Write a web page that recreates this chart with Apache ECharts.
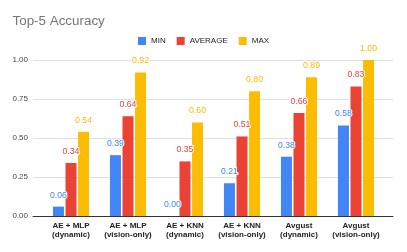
<!DOCTYPE html>
<html><head><meta charset="utf-8">
<script src="https://cdn.jsdelivr.net/npm/echarts@6/dist/echarts.min.js"></script>
<style>html,body{margin:0;padding:0;background:#fff}#c{width:407px;height:252px}</style>
</head><body><div id="c"></div>
<script>
const categories = ['AE + MLP\n(dynamic)','AE + MLP\n(vision-only)','AE + KNN\n(dynamic)','AE + KNN\n(vision-only)','Avgust\n(dynamic)','Avgust\n(vision-only)'];
const minValues = [0.06, 0.39, 0.00, 0.21, 0.38, 0.58];
const avgValues = [0.34, 0.64, 0.35, 0.51, 0.66, 0.83];
const maxValues = [0.54, 0.92, 0.60, 0.80, 0.89, 1.00];
const yTicks = [0, 0.25, 0.5, 0.75, 1];

const chart = echarts.init(document.getElementById('c'), null, {renderer:'canvas'});
const font = '"Liberation Sans", Arial, sans-serif';
function ser(name, data, color){
  return {
    name, type:'bar', data, xAxisIndex:1, yAxisIndex:1,
    barWidth:11, barGap:'14%',
    itemStyle:{color},
    label:{show:true, position:'top', distance:7, color, fontSize:8.7, fontFamily:font,
      formatter:p=>p.value.toFixed(2), textBorderColor:'#fff', textBorderWidth:2}
  };
}
chart.setOption({
  animation:false,
  title:{text:'Top-5 Accuracy', left:12.5, top:15, padding:0, textStyle:{fontSize:13.4, fontWeight:'normal', color:'#757575', fontFamily:font}},
  legend:{top:37, left:138, padding:0, itemWidth:8, itemHeight:8, itemGap:11, icon:'rect',
    textStyle:{fontSize:8, color:'#222', fontFamily:font}, data:['MIN','AVERAGE','MAX']},
  grid:[
    {left:33, right:14, top:60, bottom:36},
    {left:42.5, right:22.5, top:60, bottom:36}
  ],
  xAxis:[
    {type:'category', gridIndex:0, data:categories, axisLine:{lineStyle:{color:'#333'}}, axisTick:{show:false}, axisLabel:{show:false}},
    {type:'category', gridIndex:1, data:categories, axisLine:{show:false}, axisTick:{show:false},
      axisLabel:{fontSize:8, fontWeight:'bold', color:'#222', fontFamily:font, margin:5, lineHeight:9, interval:0}}
  ],
  yAxis:[
    {type:'value', gridIndex:0, min:0, max:1, interval:0.25, axisLine:{show:false}, axisTick:{show:false},
      splitLine:{lineStyle:{color:'#e0e0e0'}},
      axisLabel:{fontSize:8, color:'#444', fontFamily:font, margin:5, formatter:v=>v.toFixed(2)}},
    {type:'value', gridIndex:1, min:0, max:1, interval:0.25, show:false}
  ],
  series:[
    ser('MIN', minValues, '#4285F4'),
    ser('AVERAGE', avgValues, '#EA4335'),
    ser('MAX', maxValues, '#FBBC04')
  ]
});
</script></body></html>
